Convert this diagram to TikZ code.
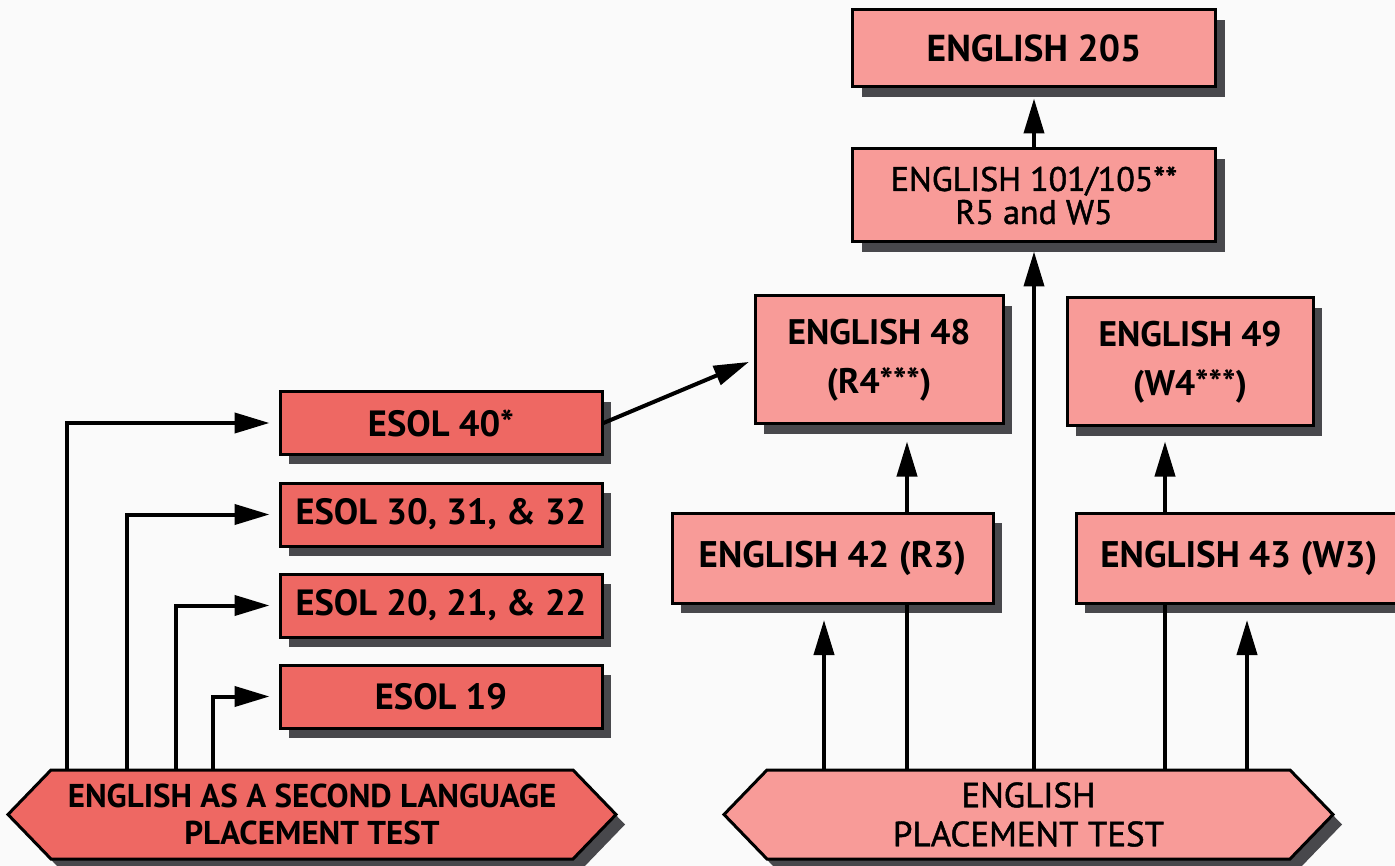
\documentclass[tikz,border=0pt]{standalone}
\usepackage{fontspec}
\setmainfont{PT Sans}
\newfontfamily\medfont[FakeBold=1.3]{PT Sans}
\usetikzlibrary{arrows.meta,shadows}
\definecolor{bgc}{HTML}{FAFAFA}
\definecolor{darkbox}{HTML}{EE6863}
\definecolor{lightbox}{HTML}{F89B98}
\definecolor{shd}{HTML}{48484C}
\begin{document}
\begin{tikzpicture}[x=1pt,y=-1pt,
  sh/.style={drop shadow={shadow xshift=9pt,shadow yshift=-10pt,fill=shd,opacity=1}},
  box/.style={draw=black,line width=3pt,rectangle,inner sep=0pt,align=center,sh},
  dbox/.style={box,fill=darkbox},
  lbox/.style={box,fill=lightbox},
  hexs/.style={draw=black,line width=3pt,line join=miter,sh},
  arr/.style={line width=4pt,line join=miter,-{Triangle[length=35pt,width=20pt]}},
  ln/.style={line width=4pt},
  btxt/.style={font=\bfseries\fontsize{36.5}{42}\selectfont},
]
\fill[bgc] (0,0) rectangle (1395,866);
\useasboundingbox (0,0) rectangle (1395,866);

% top boxes
\node[lbox,minimum width=363pt,minimum height=77pt,font=\bfseries\fontsize{37.5}{42}\selectfont] (e205) at (1034,48.5) {ENGLISH 205};
\node[lbox,minimum width=363pt,minimum height=93pt,font=\medfont\fontsize{34}{33}\selectfont] (e101) at (1034,195.5) {ENGLISH 101/105**\\R5 and W5};
\node[lbox,minimum width=248pt,minimum height=128pt,font=\bfseries\fontsize{35.5}{49}\selectfont] (e48) at (879,360) {ENGLISH 48\\(R4***)};
\node[lbox,minimum width=246pt,minimum height=128pt,font=\bfseries\fontsize{35.5}{49}\selectfont] (e49) at (1190,362) {ENGLISH 49\\(W4***)};
\node[lbox,minimum width=321pt,minimum height=90pt,font=\bfseries\fontsize{37}{42}\selectfont] (e42) at (832.5,558) {ENGLISH 42 (R3)};
\node[lbox,minimum width=326pt,minimum height=90pt,font=\bfseries\fontsize{37}{42}\selectfont] (e43) at (1239,558) {ENGLISH 43 (W3)};

% ESOL boxes
\node[dbox,minimum width=322pt,minimum height=62pt,btxt] (s40) at (441,423) {ESOL 40*};
\node[dbox,minimum width=322pt,minimum height=63pt,btxt] (s30) at (441,514.5) {ESOL 30, 31, \& 32};
\node[dbox,minimum width=322pt,minimum height=63pt,btxt] (s20) at (441,605.5) {ESOL 20, 21, \& 22};
\node[dbox,minimum width=322pt,minimum height=63pt,btxt] (s19) at (441,696.5) {ESOL 19};

% hexagons
\path[hexs,fill=darkbox] (8,814.5) -- (51,770) -- (573,770) -- (616,814.5) -- (573,859) -- (51,859) -- cycle;
\node[minimum width=522pt,minimum height=89pt,inner sep=0pt,align=center,font=\bfseries\fontsize{33}{37}\selectfont] (esl) at (312,814.5) {ENGLISH AS A SECOND LANGUAGE\\PLACEMENT TEST};
\path[hexs,fill=lightbox] (724,814.5) -- (767,770) -- (1290,770) -- (1333,814.5) -- (1290,859) -- (767,859) -- cycle;
\node[minimum width=523pt,minimum height=89pt,inner sep=0pt,align=center,font=\medfont\fontsize{35}{39}\selectfont] (ept) at (1028.5,814.5) {ENGLISH\\PLACEMENT TEST};

% x positions
\coordinate (xa) at (67,0);
\coordinate (xb) at (127,0);
\coordinate (xc) at (176,0);
\coordinate (xd) at (213,0);
\coordinate (xr1) at (824,0);
\coordinate (xr2) at (907,0);
\coordinate (xr3) at (1034,0);
\coordinate (xr4) at (1165,0);
\coordinate (xr5) at (1247,0);
\coordinate (f1) at (824,620);
\coordinate (f2) at (1247,620);

% left connectors
\draw[arr,shorten >=9pt] (esl.north -| xa) |- (s40.west);
\draw[arr,shorten >=9pt] (esl.north -| xb) |- (s30.west);
\draw[arr,shorten >=9pt] (esl.north -| xc) |- (s20.west);
\draw[arr,shorten >=9pt] (esl.north -| xd) |- (s19.west);
\draw[arr,shorten >=5pt] (s40.east) -- (e48.west);

% right connectors
\draw[arr] (ept.north -| xr1) -- (f1);
\draw[ln] (ept.north -| xr2) -- (e42.south -| xr2);
\draw[arr,shorten >=16pt] (e42.north -| xr2) -- (e48.south -| xr2);
\draw[arr,shorten >=8pt] (ept.north -| xr3) -- (e101.south -| xr3);
\draw[ln] (ept.north -| xr4) -- (e43.south -| xr4);
\draw[arr,shorten >=14pt] (e43.north -| xr4) -- (e49.south -| xr4);
\draw[arr] (ept.north -| xr5) -- (f2);
\draw[arr,shorten >=10pt] (e101.north) -- (e205.south);
\end{tikzpicture}
\end{document}
